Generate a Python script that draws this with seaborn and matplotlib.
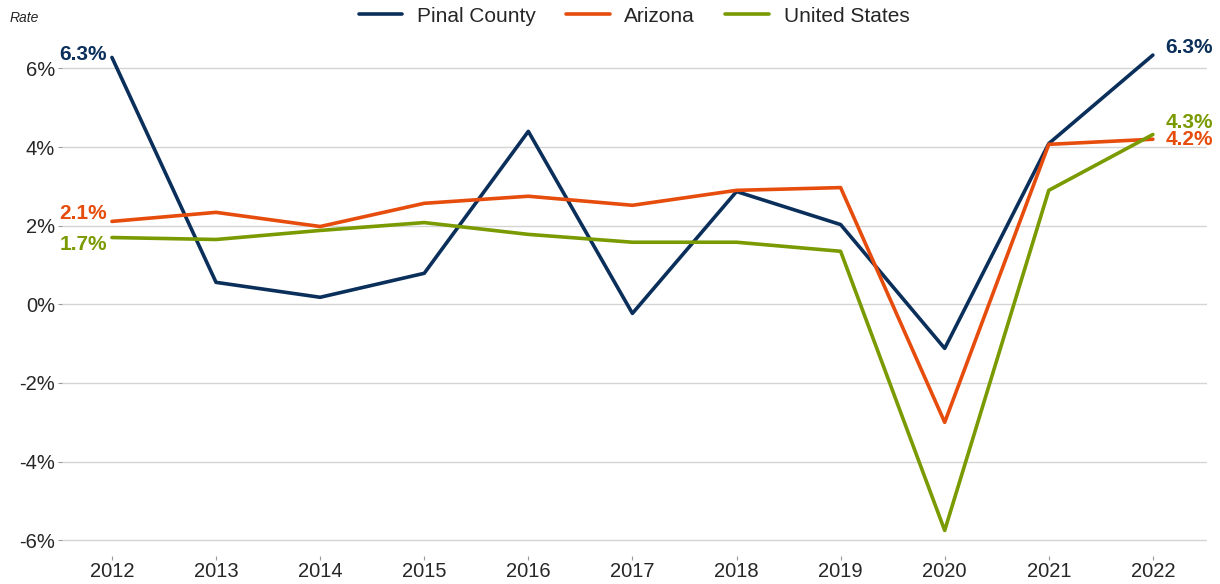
import pandas as pd
import seaborn as sns
import matplotlib.pyplot as plt
from matplotlib.ticker import FuncFormatter

# dados
years = [2012, 2013, 2014, 2015, 2016, 2017, 2018, 2019, 2020, 2021, 2022]
pinal = [6.28, 0.56, 0.18, 0.79, 4.40, -0.23, 2.87, 2.03, -1.12, 4.09, 6.34]
arizona = [2.11, 2.34, 1.98, 2.57, 2.75, 2.52, 2.90, 2.97, -3.00, 4.07, 4.20]
usa = [1.70, 1.65, 1.88, 2.08, 1.78, 1.58, 1.58, 1.35, -5.75, 2.90, 4.32]
series = ["Pinal County", "Arizona", "United States"]
colors = ["#0b2f5b", "#e64c0c", "#7a9a01"]
yticks = [-6, -4, -2, 0, 2, 4, 6]

df = pd.DataFrame({"year": years * 3,
                   "rate": pinal + arizona + usa,
                   "serie": [s for s in series for _ in years]})

sns.set_style("white")
plt.rcParams["font.family"] = ["Liberation Sans", "DejaVu Sans"]

fig = plt.figure(figsize=(12.2, 5.84), dpi=100)
ax = fig.add_axes([62 / 1220, 1 - 556 / 584, 1145 / 1220, 519 / 584])

sns.lineplot(data=df, x="year", y="rate", hue="serie", hue_order=series,
             palette=colors, linewidth=2.6, ax=ax, legend=False)

ax.set_xlim(2011.52, 2022.52)
ax.set_ylim(-6.4, 6.8)
ax.set_xticks(years)
ax.set_yticks(yticks)
ax.yaxis.set_major_formatter(FuncFormatter(lambda v, p: f"{v:.0f}%"))
ax.grid(axis="y", color="#d4d4d4", linewidth=1)
ax.grid(axis="x", visible=False)
ax.set_axisbelow(True)
for s in ax.spines.values():
    s.set_visible(False)
ax.tick_params(axis="both", labelsize=14.5, color="#999999", length=3, width=0.8,
               bottom=True, left=True)
ax.tick_params(axis="y", pad=2)
ax.tick_params(axis="x", pad=1)
ax.set_xlabel("")
ax.set_ylabel("")

# rótulos
first = {"Pinal County": pinal[0], "Arizona": arizona[0], "United States": usa[0]}
last = {"Pinal County": pinal[-1], "Arizona": arizona[-1], "United States": usa[-1]}
left_off = {"Pinal County": 0.08, "Arizona": 0.2, "United States": -0.17}
right_off = {"Pinal County": 0.19, "Arizona": 0.0, "United States": 0.31}
for s, c in zip(series, colors):
    ax.text(years[0] - 0.05, first[s] + left_off[s], f"{first[s]:.1f}%", color=c,
            fontsize=15, fontweight="bold", ha="right", va="center")
    ax.text(years[-1] + 0.12, last[s] + right_off[s], f"{last[s]:.1f}%", color=c,
            fontsize=15, fontweight="bold", ha="left", va="center")

fig.text(10 / 1220, 1 - 18 / 584, "Rate", fontsize=10, style="italic", va="center")

handles = [plt.Line2D([], [], color=c, linewidth=2.6) for c in colors]
fig.legend(handles, series, loc="center", bbox_to_anchor=(634 / 1220, 1 - 16 / 584),
           ncol=3, frameon=False, fontsize=15, handlelength=2.1, columnspacing=1.45,
           handletextpad=0.7)

fig.savefig("out.png", dpi=100)
